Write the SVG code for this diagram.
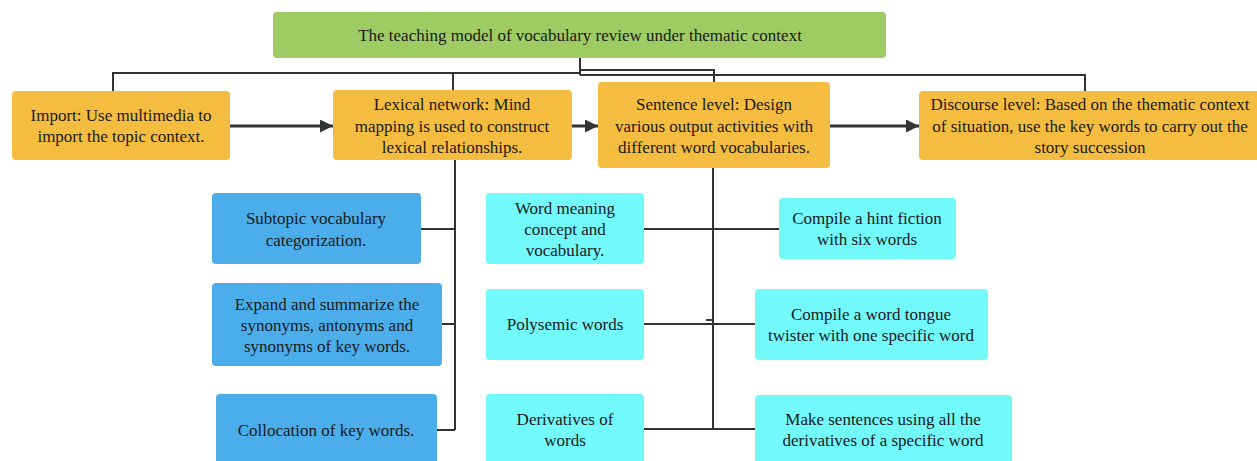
<svg xmlns="http://www.w3.org/2000/svg" width="1257" height="461" viewBox="0 0 1257 461">
<style>
.t{font-family:"Liberation Serif","Times New Roman",serif;font-size:17px;fill:#1a1a1a;text-anchor:middle}
.g{fill:#9ecb63}
.o{fill:#f5bd40}
.b{fill:#4baeea}
.c{fill:#72f9fc}
.ln{fill:none;stroke:#333;stroke-width:2}
.ar{fill:none;stroke:#333;stroke-width:3}
</style>
<defs>
<marker id="ah2" viewBox="0 0 10 10" refX="10" refY="5" markerWidth="18" markerHeight="13" orient="auto" markerUnits="userSpaceOnUse">
<path d="M0,0 L10,5 L0,10 z" fill="#333"/>
</marker>
</defs>
<rect width="1257" height="461" fill="#fff"/>
<g id="connectors">
<path class="ln" d="M580,58 V75"/>
<path class="ln" d="M580,73 H113 V91"/>
<path class="ln" d="M453,73 V90"/>
<path class="ln" d="M580,70 H714 V82"/>
<path class="ln" d="M580,75 H1085 V91"/>
<path class="ar" d="M230,126 H333" marker-end="url(#ah2)"/>
<path class="ar" d="M572,126 H598" marker-end="url(#ah2)"/>
<path class="ar" d="M830,126 H919" marker-end="url(#ah2)"/>
<path class="ln" d="M455,160 V430"/>
<path class="ln" d="M421,229 H455"/>
<path class="ln" d="M442,324 H455"/>
<path class="ln" d="M437,430 H455"/>
<path class="ln" d="M713,168 V429"/>
<path class="ln" d="M644,229 H779"/>
<path class="ln" d="M644,324 H755"/>
<path class="ln" d="M644,429 H755"/>
<path class="ln" d="M706,320 H713"/>
</g>
<g id="title">
<rect class="g" x="273" y="12" width="613" height="46" rx="4"/>
<text class="t" x="580" y="41">The teaching model of vocabulary review under thematic context</text>
</g>
<g id="import">
<rect class="o" x="12" y="91" width="218" height="69" rx="4"/>
<text class="t" x="121" y="121">Import: Use multimedia to</text>
<text class="t" x="121" y="142">import the topic context.</text>
</g>
<g id="lexical">
<rect class="o" x="333" y="90" width="239" height="70" rx="4"/>
<text class="t" x="452" y="110">Lexical network: Mind</text>
<text class="t" x="452" y="132">mapping is used to construct</text>
<text class="t" x="452" y="153">lexical relationships.</text>
</g>
<g id="sentence">
<rect class="o" x="598" y="82" width="232" height="86" rx="4"/>
<text class="t" x="714" y="110">Sentence level: Design</text>
<text class="t" x="714" y="132">various output activities with</text>
<text class="t" x="714" y="153">different word vocabularies.</text>
</g>
<g id="discourse">
<rect class="o" x="919" y="91" width="342" height="69" rx="4"/>
<text class="t" x="1090" y="110">Discourse level: Based on the thematic context</text>
<text class="t" x="1090" y="132">of situation, use the key words to carry out the</text>
<text class="t" x="1090" y="153">story succession</text>
</g>
<g id="subtopic">
<rect class="b" x="212" y="193" width="209" height="71" rx="4"/>
<text class="t" x="316" y="224">Subtopic vocabulary</text>
<text class="t" x="316" y="246">categorization.</text>
</g>
<g id="expand">
<rect class="b" x="212" y="283" width="230" height="83" rx="4"/>
<text class="t" x="327" y="310">Expand and summarize the</text>
<text class="t" x="327" y="331">synonyms, antonyms and</text>
<text class="t" x="327" y="352">synonyms of key words.</text>
</g>
<g id="collocation">
<rect class="b" x="216" y="394" width="221" height="75" rx="4"/>
<text class="t" x="326" y="436">Collocation of key words.</text>
</g>
<g id="wordmeaning">
<rect class="c" x="486" y="193" width="158" height="71" rx="4"/>
<text class="t" x="565" y="214">Word meaning</text>
<text class="t" x="565" y="235">concept and</text>
<text class="t" x="565" y="256">vocabulary.</text>
</g>
<g id="polysemic">
<rect class="c" x="486" y="289" width="158" height="71" rx="4"/>
<text class="t" x="565" y="330">Polysemic words</text>
</g>
<g id="derivatives">
<rect class="c" x="486" y="394" width="158" height="75" rx="4"/>
<text class="t" x="565" y="425">Derivatives of</text>
<text class="t" x="565" y="446">words</text>
</g>
<g id="hint">
<rect class="c" x="779" y="198" width="177" height="61" rx="4"/>
<text class="t" x="867" y="224">Compile a hint fiction</text>
<text class="t" x="867" y="245">with six words</text>
</g>
<g id="tongue">
<rect class="c" x="755" y="289" width="233" height="71" rx="4"/>
<text class="t" x="871" y="320">Compile a word tongue</text>
<text class="t" x="871" y="341">twister with one specific word</text>
</g>
<g id="makesentences">
<rect class="c" x="755" y="395" width="257" height="74" rx="4"/>
<text class="t" x="883" y="425">Make sentences using all the</text>
<text class="t" x="883" y="446">derivatives of a specific word</text>
</g>
</svg>
